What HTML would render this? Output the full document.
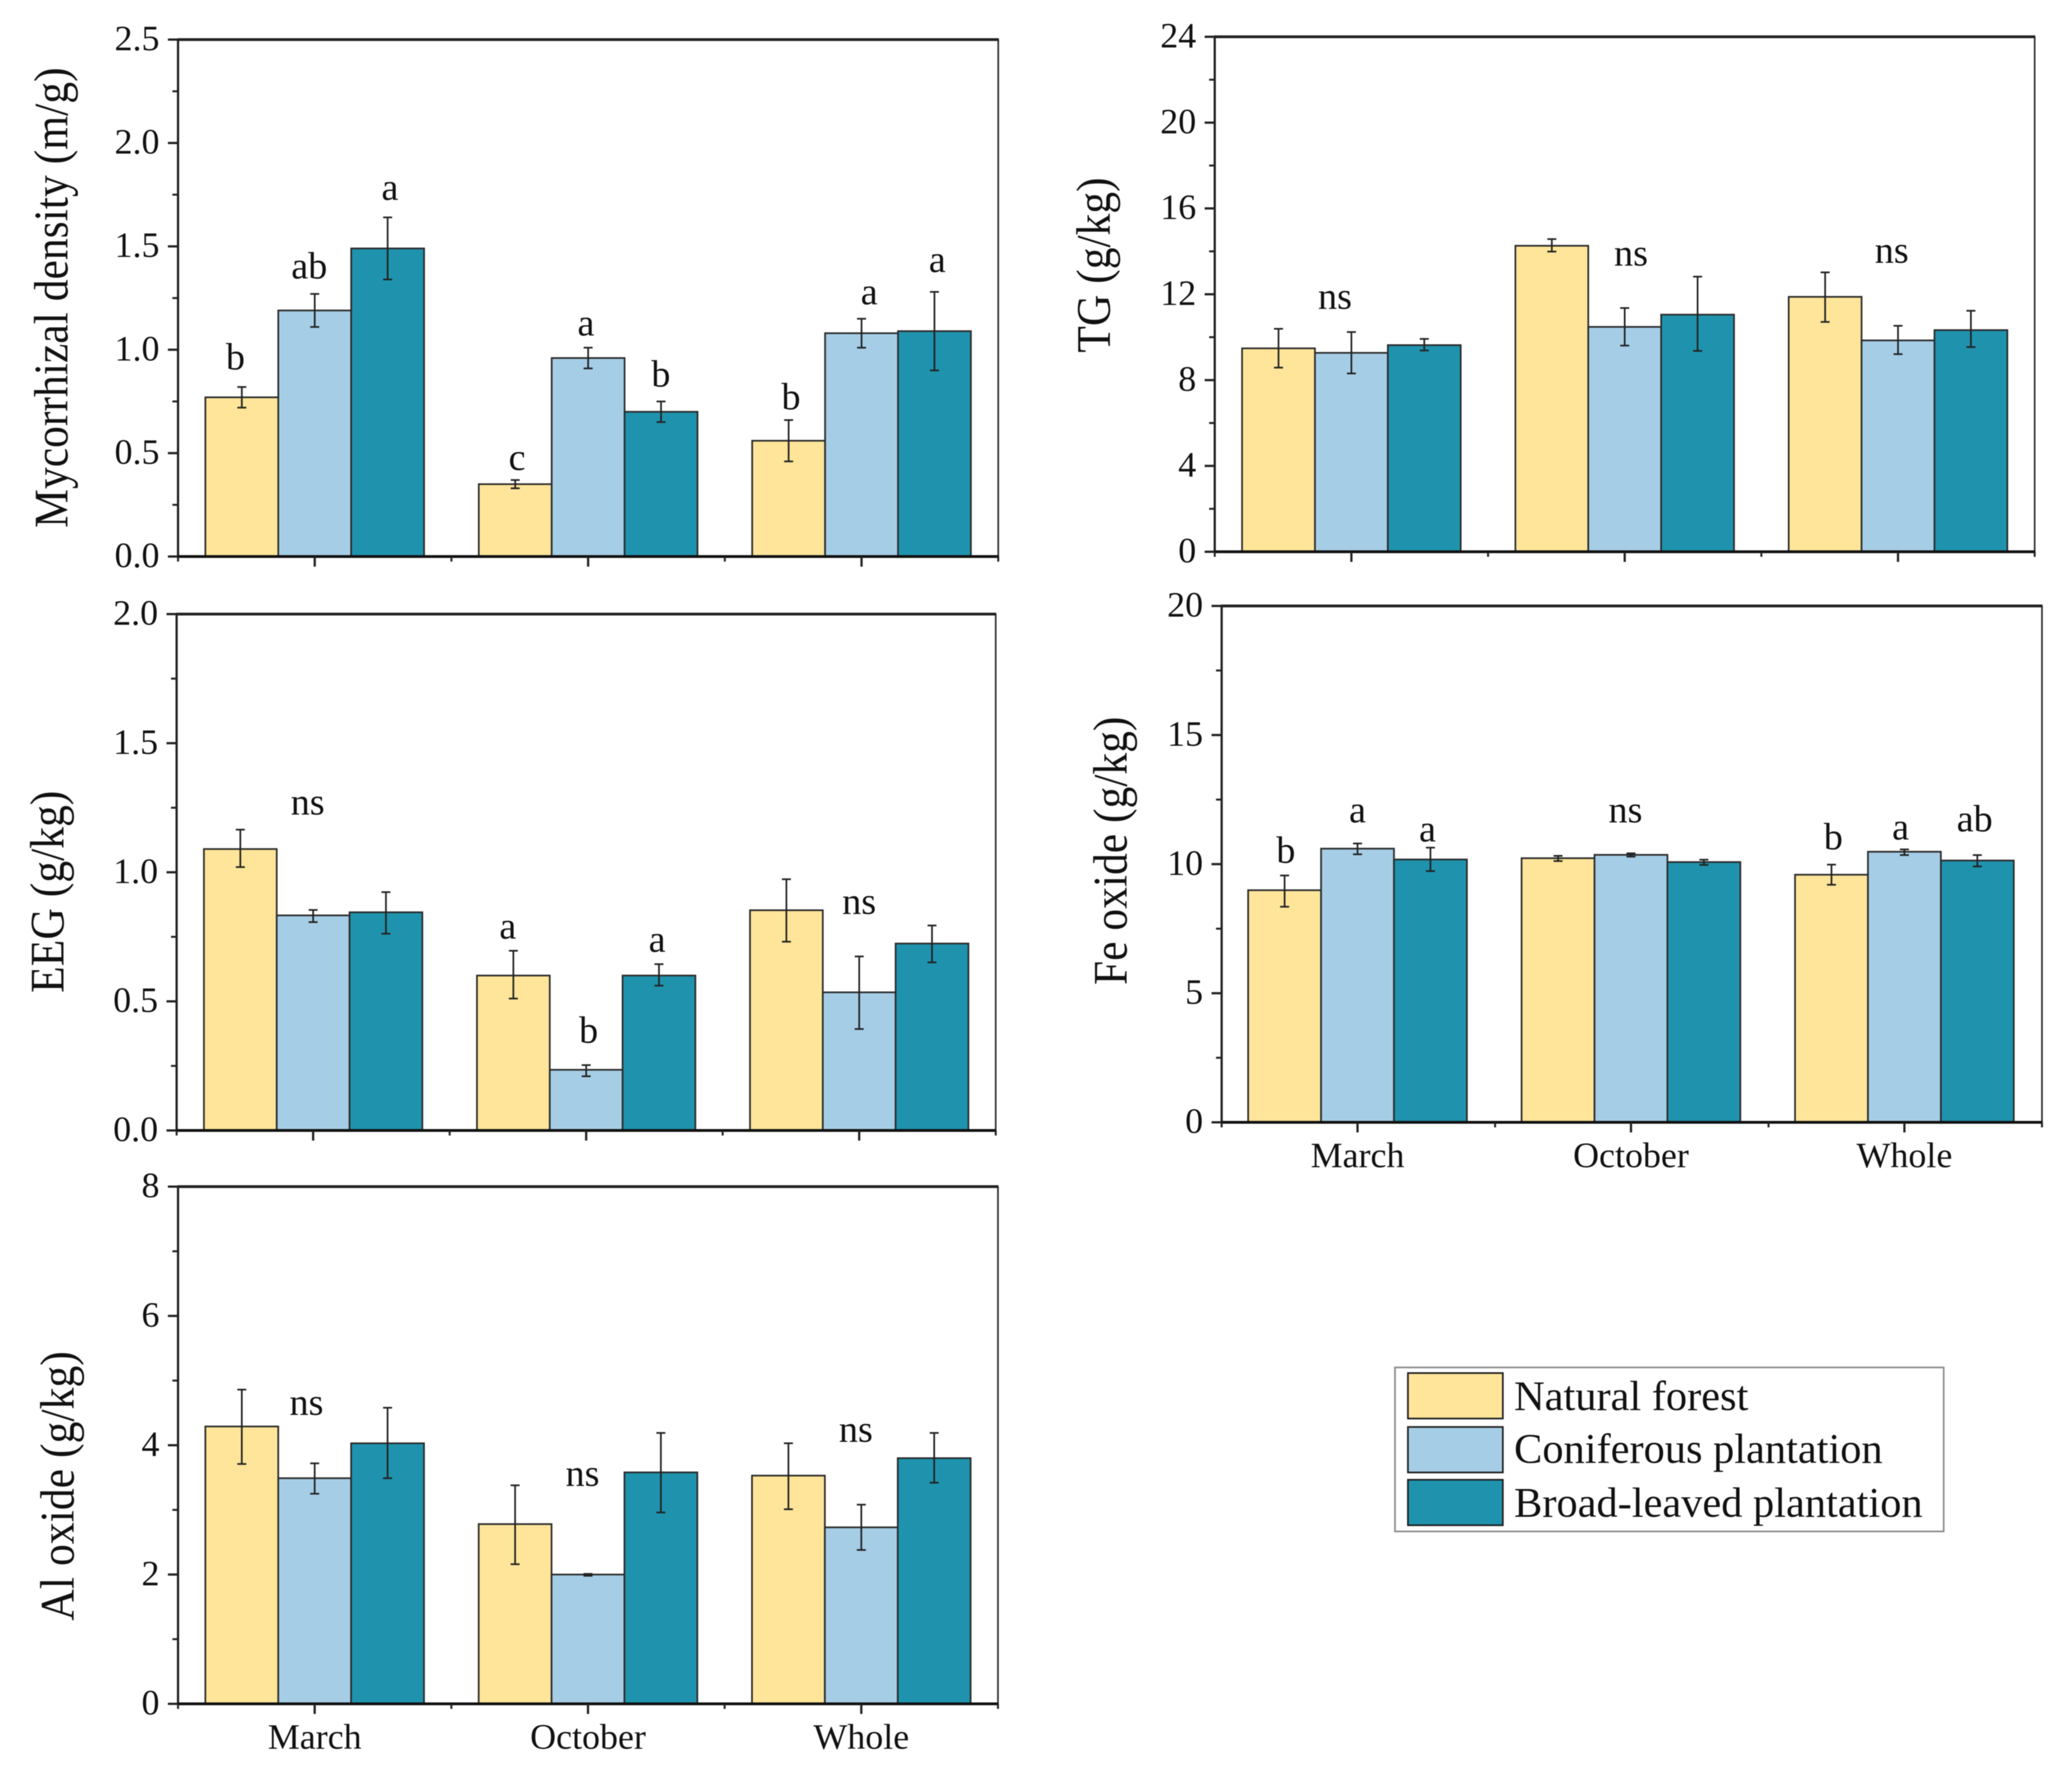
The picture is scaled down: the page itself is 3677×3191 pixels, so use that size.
<!DOCTYPE html>
<html lang="en">
<head>
<meta charset="utf-8">
<title>Soil and mycorrhizal properties by forest type</title>
<style>
  html, body { margin: 0; padding: 0; background: #fff; }
  #figure { display: block; width: 3677px; height: 3191px; background: #fff; filter: blur(0.7px); }
  text { font-family: "Liberation Serif", "Times New Roman", serif; fill: #111; }
</style>
</head>
<body>
<svg id="figure" xmlns="http://www.w3.org/2000/svg" width="3677" height="3191" viewBox="0 0 3677 3191">
  <g id="legend">
    <rect x="2484" y="2435" width="977" height="292" fill="#fff" stroke="#8e8e8e" stroke-width="3"/>
    <rect x="2507" y="2445" width="169" height="81" fill="#FEE599" stroke="#222" stroke-width="3"/>
    <text x="2696" y="2511" font-size="75.5">Natural forest</text>
    <rect x="2507" y="2541" width="169" height="81" fill="#A5CDE6" stroke="#222" stroke-width="3"/>
    <text x="2696" y="2605" font-size="75.5">Coniferous plantation</text>
    <rect x="2507" y="2635" width="169" height="81" fill="#1F93AE" stroke="#222" stroke-width="3"/>
    <text x="2696" y="2701" font-size="75.5">Broad-leaved plantation</text>
  </g>
</svg>
<script>
// ---- Shared categories ----
const categories = ['March', 'October', 'Whole'];
const seriesKeys = ['natural-forest', 'coniferous-plantation', 'broad-leaved-plantation'];

// ---- Mycorrhizal density ----
const mycoMeans = [[0.77, 0.35, 0.56], [1.19, 0.96, 1.08], [1.49, 0.70, 1.09]];
const mycoErrHigh = [[0.82, 0.37, 0.66], [1.27, 1.01, 1.15], [1.64, 0.75, 1.28]];
const mycoErrLow = [[0.72, 0.33, 0.46], [1.11, 0.91, 1.01], [1.34, 0.65, 0.90]];
const mycoTicks = ['0.0', '0.5', '1.0', '1.5', '2.0', '2.5'];
const mycoSigText = ['b', 'ab', 'a', 'c', 'a', 'b', 'b', 'a', 'a'];
const mycoSigCat = [-0.29, -0.02, 0.275, 0.74, 0.992, 1.266, 1.742, 2.028, 2.277];
const mycoSigVal = [0.904, 1.345, 1.724, 0.418, 1.069, 0.822, 0.711, 1.219, 1.376];

// ---- TG ----
const tgMeans = [[9.48, 14.26, 11.88], [9.27, 10.48, 9.85], [9.63, 11.05, 10.33]];
const tgErrHigh = [[10.39, 14.57, 13.02], [10.24, 11.36, 10.53], [9.92, 12.82, 11.23]];
const tgErrLow = [[8.58, 13.99, 10.71], [8.31, 9.61, 9.21], [9.38, 9.36, 9.54]];
const tgTicks = ['0', '4', '8', '12', '16', '20', '24'];
const tgSigText = ['ns', 'ns', 'ns'];
const tgSigCat = [-0.06, 1.023, 1.977];
const tgSigVal = [11.32, 13.34, 13.47];

// ---- EEG ----
const eegMeans = [[1.09, 0.60, 0.853], [0.833, 0.235, 0.535], [0.845, 0.60, 0.724]];
const eegErrHigh = [[1.165, 0.696, 0.973], [0.854, 0.253, 0.674], [0.923, 0.644, 0.794]];
const eegErrLow = [[1.02, 0.511, 0.731], [0.807, 0.21, 0.393], [0.762, 0.561, 0.651]];
const eegTicks = ['0.0', '0.5', '1.0', '1.5', '2.0'];
const eegSigText = ['ns', 'a', 'b', 'a', 'ns'];
const eegSigCat = [-0.02, 0.713, 1.009, 1.26, 2.0];
const eegSigVal = [1.224, 0.743, 0.339, 0.692, 0.839];

// ---- Fe oxide ----
const feMeans = [[8.99, 10.23, 9.59], [10.6, 10.36, 10.48], [10.18, 10.08, 10.14]];
const feErrHigh = [[9.56, 10.32, 9.98], [10.8, 10.42, 10.57], [10.64, 10.17, 10.35]];
const feErrLow = [[8.35, 10.12, 9.2], [10.38, 10.29, 10.35], [9.73, 9.97, 9.91]];
const feTicks = ['0', '5', '10', '15', '20'];
const feSigText = ['b', 'a', 'a', 'ns', 'b', 'a', 'ab'];
const feSigCat = [-0.262, 0, 0.256, 0.98, 1.74, 1.986, 2.257];
const feSigVal = [10.05, 11.62, 10.88, 11.62, 10.57, 10.95, 11.27];

// ---- Al oxide ----
const alMeans = [[4.29, 2.78, 3.53], [3.49, 2.0, 2.73], [4.03, 3.58, 3.8]];
const alErrHigh = [[4.86, 3.38, 4.03], [3.72, 2.01, 3.08], [4.58, 4.19, 4.19]];
const alErrLow = [[3.71, 2.16, 3.01], [3.25, 1.98, 2.38], [3.49, 2.96, 3.42]];
const alTicks = ['0', '2', '4', '6', '8'];
const alSigText = ['ns', 'ns', 'ns'];
const alSigCat = [-0.03, 0.98, 1.98];
const alSigVal = [4.47, 3.37, 4.05];

// ---- Layout (separate from the data) ----
const seriesFill = ['#FEE599', '#A5CDE6', '#1F93AE'];
const NS = 'http://www.w3.org/2000/svg';
const figure = document.getElementById('figure');

function svgEl(tag, attrs, parent, content) {
  const el = document.createElementNS(NS, tag);
  for (const k in attrs) el.setAttribute(k, attrs[k]);
  if (content !== undefined) el.textContent = content;
  parent.appendChild(el);
  return el;
}

function drawPanel(p) {
  const w = p.right - p.left;
  const step = w / categories.length;
  const barW = step * 0.8 / seriesKeys.length;
  const yMin = parseFloat(p.ticks[0]);
  const yMax = parseFloat(p.ticks[p.ticks.length - 1]);
  const xScale = c => p.left + (p.xShift || 0) + (c + 0.5) * step;
  const yScale = v => p.bottom - (v - yMin) / (yMax - yMin) * (p.bottom - p.top);

  const g = svgEl('g', {}, figure);
  
  

  // bars
  p.means.forEach((series, s) => {
    series.forEach((val, c) => {
      const x0 = xScale(c) + (s - seriesKeys.length / 2) * barW;
      const rect = svgEl('rect', { x: x0, y: yScale(val), width: barW, height: p.bottom - yScale(val), fill: seriesFill[s], stroke: '#2b2b2b', 'stroke-width': 3 }, g);
      
      
    });
  });

  // error bars
  p.means.forEach((series, s) => {
    series.forEach((val, c) => {
      const cx = xScale(c) + (s - seriesKeys.length / 2 + 0.5) * barW;
      const hi = yScale(p.errHigh[s][c]);
      const lo = yScale(p.errLow[s][c]);
      const d = 'M' + cx + ' ' + hi + 'V' + lo + 'M' + (cx - 8) + ' ' + hi + 'H' + (cx + 8) + 'M' + (cx - 8) + ' ' + lo + 'H' + (cx + 8);
      const err = svgEl('path', { d: d, fill: 'none', stroke: '#222', 'stroke-width': 3 }, g);
      
      
    });
  });

  // frame
  const frameRight = svgEl('line', { x1: p.right, x2: p.right, y1: p.top, y2: p.bottom, stroke: '#333', 'stroke-width': 3 }, g);
  
  
  const frameTop = svgEl('line', { x1: p.left - 1, x2: p.right + 1, y1: p.top, y2: p.top, stroke: '#222', 'stroke-width': 5 }, g);
  
  
  const yAxis = svgEl('line', { x1: p.left, x2: p.left, y1: p.top, y2: p.bottom, stroke: '#222', 'stroke-width': 4 }, g);
  
  
  const xAxis = svgEl('line', { x1: p.left - 1, x2: p.right + 1, y1: p.bottom, y2: p.bottom, stroke: '#111', 'stroke-width': 5 }, g);
  
  

  // y ticks and labels
  const tickVals = p.ticks.map(parseFloat);
  const tickStep = tickVals[1] - tickVals[0];
  p.ticks.forEach((label, i) => {
    const y = yScale(tickVals[i]);
    const tick = svgEl('line', { x1: p.left - 18, x2: p.left, y1: y, y2: y, stroke: '#222', 'stroke-width': 4 }, g);
    
    
    const txt = svgEl('text', { x: p.left - 33, y: y + 19, 'font-size': 64, 'text-anchor': 'end' }, g, label);
    
    
    if (i < p.ticks.length - 1) {
      const ym = yScale(tickVals[i] + tickStep / 2);
      const minor = svgEl('line', { x1: p.left - 10, x2: p.left, y1: ym, y2: ym, stroke: '#222', 'stroke-width': 3.5 }, g);
      
      
    }
  });

  // x ticks and labels
  categories.forEach((cat, c) => {
    const x = xScale(c);
    const tick = svgEl('line', { x1: x, x2: x, y1: p.bottom, y2: p.bottom + 18, stroke: '#222', 'stroke-width': 4 }, g);
    
    
    if (p.showCategories) {
      const txt = svgEl('text', { x: x, y: p.bottom + 80, 'font-size': 64, 'text-anchor': 'middle' }, g, cat);
      
      
    }
  });
  for (let c = 0; c <= categories.length; c++) {
    const x = p.left + c * step;
    const minor = svgEl('line', { x1: x, x2: x, y1: p.bottom, y2: p.bottom + 9, stroke: '#222', 'stroke-width': 3.5 }, g);
    
    
  }

  // significance letters
  p.sigText.forEach((label, i) => {
    const sig = svgEl('text', { x: xScale(p.sigCat[i]), y: yScale(p.sigVal[i]), 'font-size': 68, 'text-anchor': 'middle' }, g, label);
    
    
  });

  // y axis title
  const title = svgEl('text', {
    transform: 'translate(' + p.titleX + ' ' + p.titleY + ') rotate(-90)',
    x: 0, y: 0, 'font-size': 86, textLength: p.titleLen, lengthAdjust: 'spacingAndGlyphs'
  }, g, p.title);
  
  
}

drawPanel({ key: 'mycorrhizal-density', left: 317, right: 1777.5, top: 70.5, bottom: 991,
  means: mycoMeans, errHigh: mycoErrHigh, errLow: mycoErrLow, ticks: mycoTicks,
  sigText: mycoSigText, sigCat: mycoSigCat, sigVal: mycoSigVal, showCategories: false,
  title: 'Mycorrhizal density (m/g)', titleX: 120, titleY: 940, titleLen: 820 });

drawPanel({ key: 'tg', left: 2163, right: 3623, top: 65.5, bottom: 982.5,
  means: tgMeans, errHigh: tgErrHigh, errLow: tgErrLow, ticks: tgTicks,
  sigText: tgSigText, sigCat: tgSigCat, sigVal: tgSigVal, showCategories: false,
  title: 'TG (g/kg)', titleX: 1976, titleY: 628, titleLen: 312 });

drawPanel({ key: 'eeg', left: 314.5, right: 1773, top: 1093.5, bottom: 2013,
  means: eegMeans, errHigh: eegErrHigh, errLow: eegErrLow, ticks: eegTicks,
  sigText: eegSigText, sigCat: eegSigCat, sigVal: eegSigVal, showCategories: false,
  title: 'EEG (g/kg)', titleX: 113, titleY: 1768, titleLen: 360 });

drawPanel({ key: 'fe-oxide', left: 2175.3, right: 3636, xShift: -1.5, top: 1079, bottom: 1998.5,
  means: feMeans, errHigh: feErrHigh, errLow: feErrLow, ticks: feTicks,
  sigText: feSigText, sigCat: feSigCat, sigVal: feSigVal, showCategories: true,
  title: 'Fe oxide (g/kg)', titleX: 2006, titleY: 1754, titleLen: 478 });

drawPanel({ key: 'al-oxide', left: 317, right: 1777, top: 2113, bottom: 3034,
  means: alMeans, errHigh: alErrHigh, errLow: alErrLow, ticks: alTicks,
  sigText: alSigText, sigCat: alSigCat, sigVal: alSigVal, showCategories: true,
  title: 'Al oxide (g/kg)', titleX: 131, titleY: 2886, titleLen: 480 });
</script>
</body>
</html>
